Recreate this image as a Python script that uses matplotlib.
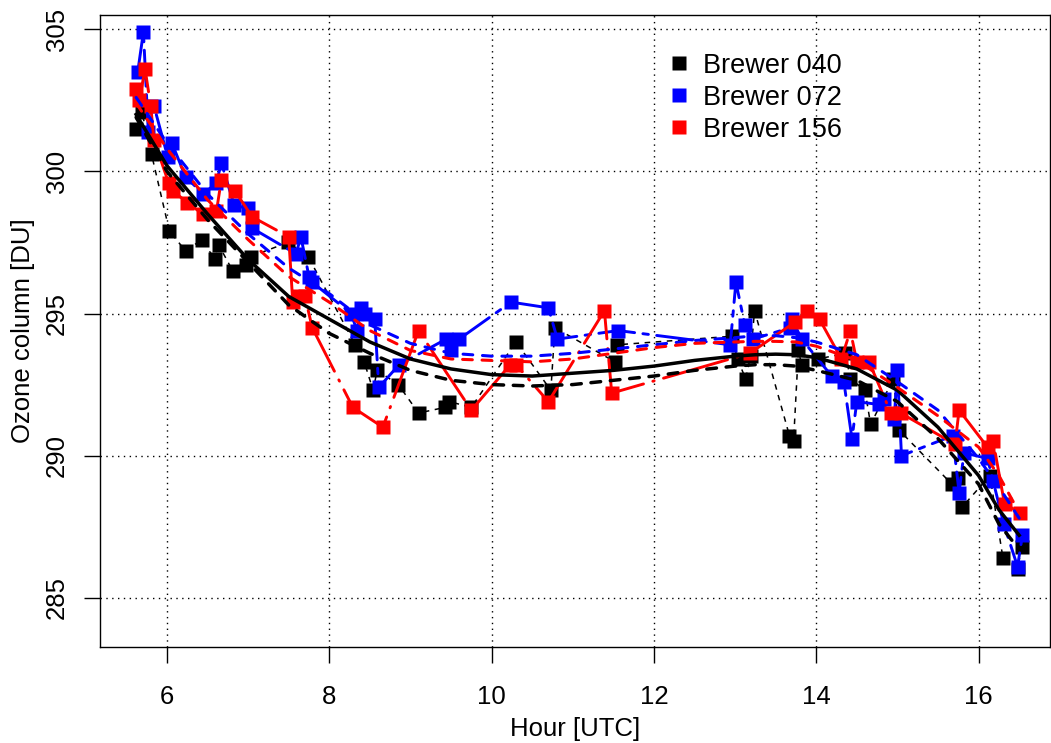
import matplotlib
matplotlib.use("Agg")
import matplotlib.pyplot as plt
from matplotlib.lines import Line2D

plt.rcParams['font.family'] = ['Liberation Sans', 'DejaVu Sans']
plt.rcParams['lines.scale_dashes'] = False

# Brewer 040 measurements (hour UTC, ozone DU)
hour_040 = [5.62, 5.69, 5.81, 6.03, 6.23, 6.43, 6.59, 6.64, 6.81, 6.98, 7.03, 7.49,
            7.74, 8.32, 8.43, 8.54, 8.59, 8.85, 9.10, 9.43, 9.48, 9.75, 10.30, 10.73,
            10.78, 11.52, 11.55, 12.96, 13.03, 13.13, 13.19, 13.24, 13.67, 13.72, 13.78,
            13.82, 14.02, 14.36, 14.42, 14.60, 14.67, 14.95, 15.02, 15.67, 15.75, 15.80,
            16.14, 16.30, 16.48, 16.53]
oz_040 = [301.5, 302.1, 300.6, 297.9, 297.2, 297.6, 296.9, 297.4, 296.5, 296.7, 297.0, 297.5,
          297.0, 293.9, 293.3, 292.3, 293.0, 292.5, 291.5, 291.7, 291.9, 291.7, 294.0, 292.3,
          294.5, 293.3, 293.9, 294.2, 293.4, 292.7, 293.5, 295.1, 290.7, 290.5, 293.7,
          293.2, 293.4, 293.6, 292.7, 292.3, 291.1, 292.7, 290.9, 289.0, 289.2, 288.2,
          289.3, 286.4, 286.0, 286.8]

# Brewer 072
hour_072 = [5.64, 5.71, 5.77, 5.84, 6.01, 6.06, 6.23, 6.45, 6.61, 6.67, 6.83, 7.00, 7.05,
            7.59, 7.65, 7.75, 7.79, 8.27, 8.34, 8.39, 8.44, 8.56, 8.61, 8.86, 9.44, 9.50,
            9.60, 10.24, 10.70, 10.81, 11.56, 12.94, 13.01, 13.12, 13.22, 13.68, 13.70,
            13.82, 14.19, 14.34, 14.44, 14.50, 14.77, 14.84, 14.96, 15.00, 15.05, 15.68,
            15.76, 15.82, 16.11, 16.18, 16.31, 16.48, 16.54]
oz_072 = [303.5, 304.9, 301.4, 302.3, 300.5, 301.0, 299.8, 299.2, 299.6, 300.3, 298.8, 298.7, 298.0,
          297.1, 297.7, 296.3, 296.1, 295.0, 294.4, 295.2, 295.0, 294.8, 292.4, 293.2, 294.1, 293.7,
          294.1, 295.4, 295.2, 294.1, 294.4, 293.9, 296.1, 294.6, 294.1, 294.5, 294.8,
          294.1, 292.8, 292.6, 290.6, 291.9, 291.8, 292.0, 291.3, 293.0, 290.0, 290.7,
          288.7, 290.1, 289.9, 289.1, 287.6, 286.1, 287.2]

# Brewer 156
hour_156 = [5.62, 5.66, 5.73, 5.80, 5.84, 6.02, 6.08, 6.25, 6.44, 6.61, 6.67, 6.84, 7.05,
            7.50, 7.55, 7.62, 7.70, 7.79, 8.29, 8.66, 9.10, 9.75, 10.23, 10.30, 10.70,
            11.39, 11.48, 13.18, 13.74, 13.89, 14.04, 14.31, 14.42, 14.50, 14.65, 14.92,
            15.04, 15.71, 15.76, 16.11, 16.18, 16.32, 16.51]
oz_156 = [302.9, 302.5, 303.6, 302.3, 301.1, 299.6, 299.3, 298.9, 298.5, 298.6, 299.7, 299.3, 298.4,
          297.7, 295.4, 295.6, 295.6, 294.5, 291.7, 291.0, 294.4, 291.6, 293.2, 293.2, 291.9,
          295.1, 292.2, 293.6, 294.7, 295.1, 294.8, 293.4, 294.4, 293.3, 293.3, 291.5,
          291.5, 290.4, 291.6, 290.3, 290.5, 288.3, 288.0]

# smoothed curves
fit_hour = [5.62, 6.0, 6.5, 7.0, 7.5, 8.0, 8.5, 9.0, 9.5, 10.0, 10.5, 11.0, 11.5, 12.0,
            12.5, 13.0, 13.25, 13.5, 13.75, 14.0, 14.5, 15.0, 15.5, 16.0, 16.25, 16.5]
fit_solid = [302.0, 300.2, 298.5, 296.9, 295.6, 294.8, 294.0, 293.4, 293.05, 292.85, 292.8, 292.9,
             293.0, 293.15, 293.35, 293.5, 293.55, 293.57, 293.55, 293.45, 293.05, 292.3,
             291.0, 289.3, 288.1, 287.2]
fit_dashed = [301.9, 300.0, 298.3, 296.8, 295.3, 294.3, 293.6, 293.0, 292.65, 292.5, 292.45, 292.5,
              292.65, 292.8, 293.0, 293.15, 293.2, 293.2, 293.15, 293.0, 292.65, 291.9,
              290.6, 289.0, 287.6, 286.7]
fit_072 = [302.6, 301.0, 299.2, 297.8, 296.6, 295.7, 294.6, 293.95, 293.6, 293.5, 293.5, 293.6,
           293.75, 293.9, 294.05, 294.15, 294.22, 294.22, 294.15, 294.0, 293.55, 292.6,
           291.6, 289.9, 288.9, 287.8]
fit_156 = [302.4, 300.8, 299.0, 297.6, 296.3, 295.4, 294.4, 293.7, 293.4, 293.35, 293.3, 293.4,
           293.6, 293.8, 293.95, 294.0, 294.02, 294.02, 294.0, 293.85, 293.35, 292.4,
           291.4, 290.3, 289.3, 288.0]

x_ticks = [6, 8, 10, 12, 14, 16]
y_ticks = [285, 290, 295, 300, 305]

fig = plt.figure(figsize=(10.51, 7.43), dpi=100)
ax = fig.add_axes([100 / 1051, 1 - 646.7 / 743, 950 / 1051, 631.7 / 743])

ms = 9.5
ax.plot(hour_040, oz_040, color='black', lw=1.1, dashes=(4, 4), zorder=2)
ax.plot(hour_040, oz_040, 's', color='black', ms=ms, mec='none', zorder=2)
ax.plot(hour_072, oz_072, color='blue', lw=2.1, dashes=(26, 6, 4, 6), dash_capstyle='round', zorder=3)
ax.plot(hour_072, oz_072, 's', color='blue', ms=ms, mec='none', zorder=3)
ax.plot(hour_156, oz_156, color='red', lw=2.1, dashes=(48, 7, 1, 7), dash_capstyle='round', zorder=4)
ax.plot(hour_156, oz_156, 's', color='red', ms=ms, mec='none', zorder=4)

ax.plot(fit_hour, fit_solid, color='black', lw=2.5, zorder=5, solid_joinstyle='round')
ax.plot(fit_hour, fit_dashed, color='black', lw=2.5, dashes=(7, 7), dash_capstyle='round', zorder=5)
ax.plot(fit_hour, fit_072, color='blue', lw=2.2, dashes=(7, 7), dash_capstyle='round', zorder=5)
ax.plot(fit_hour, fit_156, color='red', lw=2.2, dashes=(7, 7), dash_capstyle='round', zorder=5)

ax.set_xlim(5.175, 16.88)
ax.set_ylim(283.28, 305.5)
ax.set_xticks(x_ticks)
ax.set_yticks(y_ticks)
for v in x_ticks:
    ax.axvline(v, color='black', lw=1.0, dashes=(1, 3.2), zorder=1)
for v in y_ticks:
    ax.axhline(v, color='black', lw=1.0, dashes=(1, 3.2), zorder=1)

ax.tick_params(direction='out', length=11.5, width=1.0, labelsize=18.5)
ax.tick_params(axis='x', pad=16)
ax.tick_params(axis='y', pad=11, labelrotation=90)
for lab in ax.get_yticklabels():
    lab.set_verticalalignment('center')
for s in ax.spines.values():
    s.set_linewidth(1.0)

ax.set_xlabel('Hour [UTC]', fontsize=18.5)
ax.set_ylabel('Ozone column [DU]', fontsize=18.5)
ax.xaxis.set_label_coords(0.5, -0.112)
ax.yaxis.set_label_coords(-0.068, 0.5)

handles = [Line2D([], [], ls='none', marker='s', color=c, ms=ms, mec='none')
           for c in ['black', 'blue', 'red']]
ax.legend(handles, ['Brewer 040', 'Brewer 072', 'Brewer 156'], loc='upper left',
          bbox_to_anchor=(0.596, 0.94), frameon=False, fontsize=19.5,
          handlelength=0.95, handletextpad=0.4, labelspacing=0.22, borderpad=0,
          borderaxespad=0)

fig.savefig('out.png', dpi=100)
